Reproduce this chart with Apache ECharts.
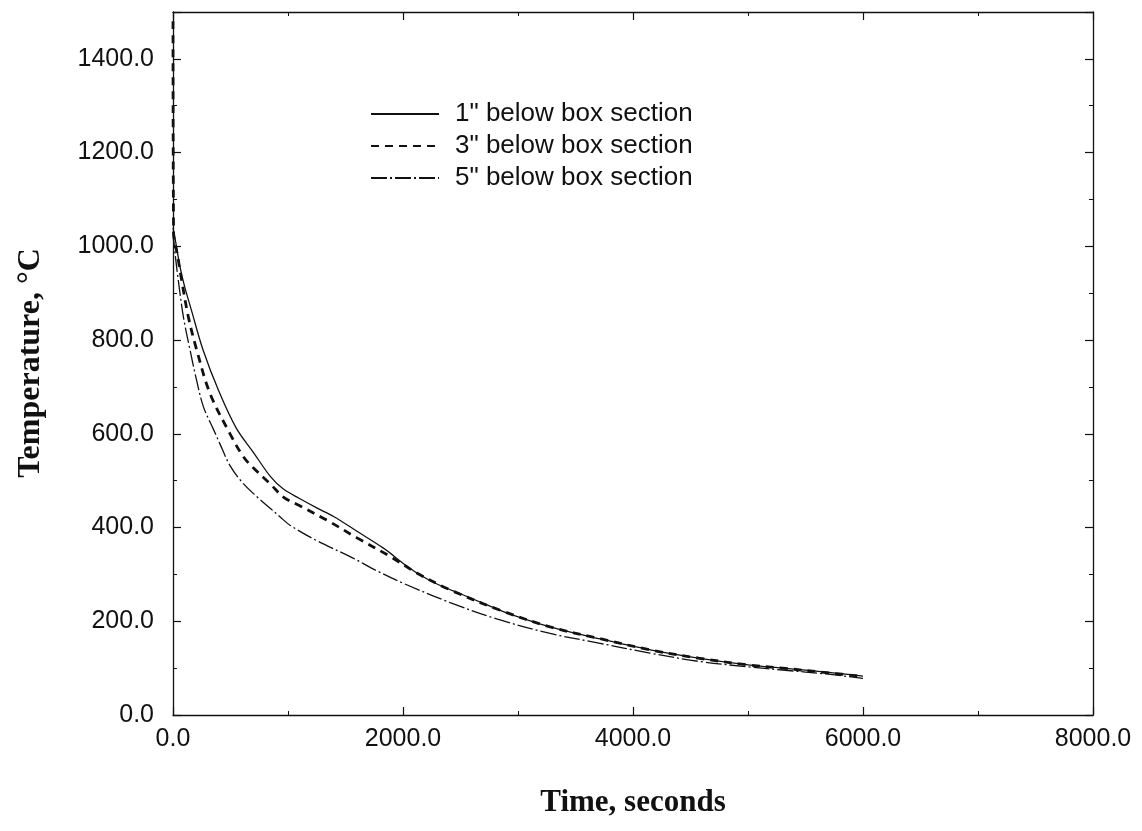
<!DOCTYPE html>
<html>
<head>
<meta charset="utf-8">
<script src="https://cdn.jsdelivr.net/npm/echarts@6/dist/echarts.min.js"></script>
<style>html,body{margin:0;padding:0;background:#fff}#c{width:1142px;height:831px}</style>
</head>
<body>
<div id="c"></div>
<script>
const seriesNames = ['1" below box section', '3" below box section', '5" below box section'];
const xTicks = [0, 2000, 4000, 6000, 8000];
const yTicks = [0, 200, 400, 600, 800, 1000, 1200, 1400];

const t1 = [0, 30, 60, 100, 160, 260, 400, 550, 700, 850, 960, 1100, 1250, 1400, 1600, 1830, 2000, 2120, 2300, 2525, 2700, 2900, 3280, 3700, 4150, 4580, 5000, 5300, 5700, 6000];
const v1 = [1040, 1000, 957, 915, 864, 780, 690, 612, 560, 508, 482, 462, 442, 423, 392, 356, 324, 303, 279, 256, 238, 218, 188, 163, 139, 121, 107, 100, 91, 83];

const t2 = [0, 5, 40, 75, 133, 206, 322, 496, 612, 700, 850, 960, 1090, 1336, 1600, 1890, 2120, 2410, 2840, 3280, 3710, 4150, 4580, 5000, 5300, 5700, 6000];
const v2 = [1480, 1030, 980, 928, 850, 779, 686, 600, 551, 527, 492, 465, 448, 416, 378, 338, 303, 267, 224, 188, 163, 139, 121, 107, 100, 90, 82];

const t3 = [0, 20, 46, 90, 148, 200, 264, 351, 409, 496, 600, 728, 850, 930, 1017, 1250, 1540, 1770, 2003, 2409, 2815, 3280, 3713, 4148, 4583, 4988, 5300, 5700, 6000];
const v3 = [1030, 980, 928, 850, 779, 720, 658, 610, 578, 532, 497, 466, 440, 423, 405, 372, 338, 308, 281, 240, 205, 174, 153, 132, 114, 103, 96, 87, 78];

const pair = (t, v) => t.map((x, i) => [x, v[i]]);
const ink = '#111';
const sans = 'Liberation Sans, Arial, sans-serif';
const serif = 'Liberation Serif, Times New Roman, serif';

const baseX = {
  type: 'value', min: xTicks[0], max: xTicks[xTicks.length - 1], interval: 2000,
  axisLine: { show: true, onZero: false, lineStyle: { color: ink, width: 1.3 } },
  axisTick: { show: true, inside: true, length: 8, lineStyle: { color: ink, width: 1.2 } },
  minorTick: { show: true, splitNumber: 2, length: 4, lineStyle: { color: ink, width: 1 } },
  splitLine: { show: false }
};
const baseY = {
  type: 'value', min: 0, max: 1500, interval: 200,
  axisLine: { show: true, onZero: false, lineStyle: { color: ink, width: 1.3 } },
  axisTick: { show: true, inside: true, length: 8, lineStyle: { color: ink, width: 1.2 } },
  minorTick: { show: true, splitNumber: 2, length: 4, lineStyle: { color: ink, width: 1 } },
  splitLine: { show: false }
};

const chart = echarts.init(document.getElementById('c'), null, { renderer: 'canvas' });
chart.setOption({
  backgroundColor: '#fff',
  animation: false,
  grid: { left: 173, right: 49, top: 12, bottom: 116, containLabel: false },
  xAxis: [
    Object.assign({}, baseX, {
      position: 'bottom',
      axisLabel: { show: true, formatter: v => v.toFixed(1), fontSize: 25, fontFamily: sans, color: ink, margin: 12 }
    }),
    Object.assign({}, baseX, { position: 'top', axisLabel: { show: false } })
  ],
  yAxis: [
    Object.assign({}, baseY, {
      position: 'left',
      axisLabel: { show: true, showMaxLabel: false, formatter: v => (v > 1400 ? '' : v.toFixed(1)), fontSize: 25, fontFamily: sans, color: ink, margin: 19 }
    }),
    Object.assign({}, baseY, { position: 'right', axisLabel: { show: false } })
  ],
  legend: {
    orient: 'vertical', left: 365, top: 96,
    itemWidth: 68, itemHeight: 14, itemGap: 6,
    itemStyle: { opacity: 0 },
    textStyle: { fontSize: 26, fontFamily: sans, color: ink, padding: [0, 0, 0, 11] },
    data: seriesNames
  },
  series: [
    { name: seriesNames[0], type: 'line', symbol: 'none', smooth: 0.35, data: pair(t1, v1),
      lineStyle: { color: ink, width: 1.3, type: 'solid' }, itemStyle: { color: ink } },
    { name: seriesNames[1], type: 'line', symbol: 'none', smooth: 0.35, data: pair(t2, v2),
      lineStyle: { color: ink, width: 2.8, type: [8, 6] }, itemStyle: { color: ink } },
    { name: seriesNames[2], type: 'line', symbol: 'none', smooth: 0.35, data: pair(t3, v3),
      lineStyle: { color: ink, width: 1.3, type: [16, 3, 2, 3] }, itemStyle: { color: ink } }
  ],
  graphic: [
    { type: 'text', x: 633, y: 803,
      style: { text: 'Time, seconds', font: 'bold 31px ' + serif, fill: ink, align: 'center', verticalAlign: 'middle' } },
    { type: 'text', x: 31, y: 363, rotation: Math.PI / 2,
      style: { text: 'Temperature, °C', font: 'bold 32px ' + serif, fill: ink, align: 'center', verticalAlign: 'middle' } }
  ]
});
</script>
</body>
</html>
